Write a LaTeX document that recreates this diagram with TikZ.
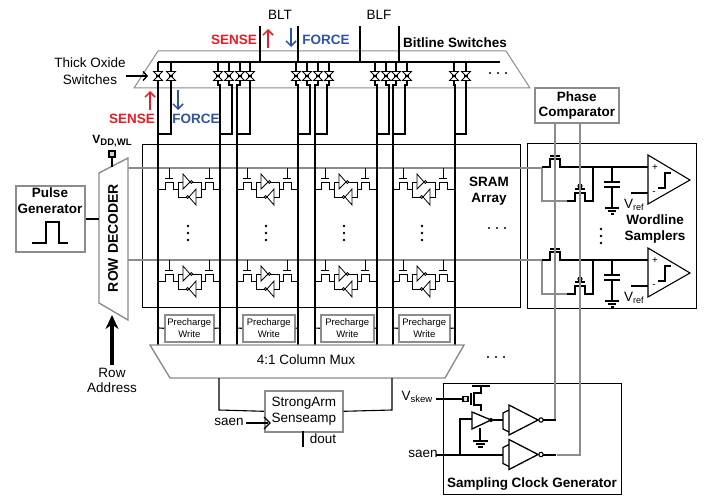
\documentclass[tikz,border=0pt]{standalone}
\usepackage{fontspec}
\setmainfont{Liberation Sans}
\usetikzlibrary{arrows.meta}
\definecolor{gline}{gray}{0.55}
\definecolor{sred}{RGB}{237,28,36}
\definecolor{fblue}{RGB}{47,84,165}
\tikzset{
 wire/.style={line width=1.1pt,black},
 bus/.style={line width=1.7pt,black},
 gwire/.style={line width=1.2pt,gline},
 thin wire/.style={line width=0.8pt,black},
 gbox/.style={draw=gline,line width=1.6pt,fill=white,inner sep=0pt,align=center},
 kbox/.style={draw=black,line width=0.9pt,inner sep=0pt},
 txt/.style={inner sep=0pt,font=\fontsize{13.5}{15}\selectfont,align=center},
 btxt/.style={inner sep=0pt,font=\fontsize{13.5}{15}\selectfont\bfseries,align=center},
 redarrow/.style={sred,line width=1.5pt,-{Straight Barb[length=5pt,width=10pt]}},
 bluearrow/.style={fblue,line width=1.5pt,-{Straight Barb[length=5pt,width=10pt]}},
 dot/.style={circle,fill=black,inner sep=0pt,minimum size=2.6pt},
}
\newcommand{\switchat}[2]{%
 \draw[thin wire,fill=white] (#1-4.5,#2-4.5) -- (#1+4.5,#2+4.5) -- (#1-4.5,#2+4.5) -- (#1+4.5,#2-4.5) -- cycle;
 \draw[thin wire,line width=1.4pt] (#1-2,#2) -- (#1+2,#2);
}
\newcommand{\sramcell}[2]{%
 \begin{scope}[shift={(#1,#2)},thin wire]
  \draw (0,0) -- (6,0) -- (6,-7) -- (14,-7) -- (14,0) -- (19,0) -- (19,-7) -- (24,-7);
  \draw (10,-21) -- (10,-11) (6,-11) -- (14,-11);
  \draw (61,0) -- (54,0) -- (54,-7) -- (46,-7) -- (46,0) -- (42,0) -- (42,-7) -- (33,-7);
  \draw (50,-21) -- (50,-11) (46,-11) -- (54,-11);
  \draw (24,-15) -- (24,0) -- (31,-7) -- cycle;
  \draw (32.3,-7) circle (1.4);
  \draw (19,0) -- (19,8) -- (28,8);
  \draw (37,0) -- (37,16) -- (30,8) -- cycle;
  \draw (28.7,8) circle (1.4);
  \draw (37,8) -- (42,8) -- (42,-7);
 \end{scope}
}
\newcommand{\sampler}[1]{%
 \begin{scope}[shift={(0,#1)}]
  \draw[gwire] (542,0) -- (542,34) -- (567,34);
  \draw[wire] (542,0) -- (550,0) -- (550,-8) -- (560,-8) -- (560,0) -- (648,0);
  \draw[wire] (555,-16) -- (555,-11) (550,-11) -- (560,-11);
  \draw[wire] (567,34) -- (575,34) -- (575,26) -- (585,26) -- (585,34) -- (593,34) -- (593,0);
  \draw[wire] (575,22) -- (585,22);
  \draw[wire,fill=white] (580,19) circle (2);
  \draw[wire] (580,17) -- (580,13);
  \draw[wire] (612,0) -- (612,15) (604,15) -- (620,15) (604,20) -- (620,20) (612,20) -- (612,41);
  \draw[wire] (605,41) -- (619,41) (608,44) -- (616,44) (610.5,47) -- (613.5,47);
  \draw[wire,fill=white] (648,-12) -- (690,13) -- (648,37) -- cycle;
  \draw[wire] (631,26) -- (648,26);
  \draw[wire] (658,21) -- (665,21) -- (665,6) -- (671,6);
  \node[inner sep=0pt,font=\fontsize{10}{10}\selectfont] at (655,0.5) {+};
  \node[inner sep=0pt,font=\fontsize{10}{10}\selectfont] at (654,26) {-};
  \node[txt,anchor=west] at (624,38) {V\raisebox{-2pt}{\fontsize{9}{9}\selectfont ref}};
 \end{scope}
}
\newcommand{\invat}[2]{%
 \begin{scope}[shift={(#1,#2)}]
  \draw[wire,line width=1.3pt,fill=white] (0,-15) -- (0,15) -- (29,0) -- cycle;
  \draw[wire,line width=1.3pt] (0,-10) -- (-6,-7) -- (-6,9) -- (0,12);
  \draw[wire,fill=white] (32,0) circle (2.2);
 \end{scope}
}
\begin{document}
\begin{tikzpicture}[x=1pt,y=-1pt]
\useasboundingbox (0,0) rectangle (709,497);
\fill[white] (0,0) rectangle (709,497);

% Bitline switch band
\draw[gline,line width=1pt] (158,51) -- (506,51) -- (530,88) -- (134,88) -- cycle;

% main boxes
\node[kbox,minimum width=378pt,minimum height=163pt,anchor=north west] (array) at (142,144) {};
\node[kbox,minimum width=169pt,minimum height=165pt,anchor=north west] (wsamp) at (527,143) {};
\node[kbox,minimum width=178pt,minimum height=111pt,anchor=north west] (clk) at (443,383) {};

% wordlines
\coordinate (wl1) at (128,168);
\coordinate (wl2) at (128,260);
\draw[gwire] (wl1) -- (542,168);
\draw[gwire] (wl2) -- (542,260);

% cells
\foreach \cx in {159,237,315,393}{
 \sramcell{\cx}{189}
 \sramcell{\cx}{281}
 \node[dot] at (\cx+29,226) {};
 \node[dot] at (\cx+29,233) {};
 \node[dot] at (\cx+29,240) {};
}

% bitlines
\draw[bus] (158,346) -- (158,62);
\draw[wire] (171,62) -- (171,134) -- (158,134);
\draw[bus] (220,346) -- (220,85) -- (218,85) -- (218,62);
\draw[wire] (229,62) -- (229,85) -- (232,85) -- (232,134) -- (220,134);
\draw[bus] (237,346) -- (237,85) -- (240,85) -- (240,62);
\draw[wire] (250,62) -- (250,134) -- (237,134);
\draw[bus] (298,346) -- (298,85) -- (296,85) -- (296,62);
\draw[wire] (307,62) -- (307,85) -- (310,85) -- (310,134) -- (298,134);
\draw[bus] (315,346) -- (315,85) -- (318,85) -- (318,62);
\draw[wire] (329,62) -- (329,85) -- (327,85) -- (327,134) -- (315,134);
\draw[bus] (377,346) -- (377,85) -- (375,85) -- (375,62);
\draw[wire] (386,62) -- (386,85) -- (389,85) -- (389,134) -- (377,134);
\draw[bus] (393,346) -- (393,85) -- (396,85) -- (396,62);
\draw[wire] (407,62) -- (407,85) -- (405,85) -- (405,134) -- (393,134);
\draw[bus] (455,346) -- (455,85) -- (454,85) -- (454,62);
\draw[wire] (466,62) -- (466,134) -- (455,134);

% top bus
\draw[black,line width=2.8pt] (158,62) -- (500,62);
\draw[wire] (260,26) -- (260,62) (298,26) -- (298,62) (360,26) -- (360,62) (399,26) -- (399,62);

% switches
\foreach \sx in {158,171,218,229,240,250,296,307,318,329,375,386,396,407,454,466}{
 \switchat{\sx}{76}
}

% precharge blocks
\foreach \px/\lx/\rx/\bw/\nm in {164/159/220/49/pca,242/237/298/52/pcb,320/315/377/53/pcc,398/393/455/51/pcd}{
 \node[gbox,minimum width=\bw pt,minimum height=27pt,anchor=north west,font=\fontsize{9.5}{11.5}\selectfont] (\nm) at (\px,314) {Precharge\\Write};
 \draw[wire] (\lx,328) -- (\nm.west);
 \draw[wire] (\nm.east) -- (\rx,328);
}

% Mux
\draw[gline,line width=1.4pt,fill=white] (150,345) -- (464,345) -- (445,378) -- (170,378) -- cycle;
\node[txt] (muxlabel) at (306,360) {4:1 Column Mux};

% senseamp
\node[gbox,minimum width=78pt,minimum height=41pt,anchor=north west,font=\fontsize{13.5}{16.5}\selectfont] (sa) at (264,390) {StrongArm\\Senseamp};
\draw[wire] (219,378) -- (219,410) -- (sa.west);
\draw[wire] (392,378) -- (392,410) -- (sa.east);
\node[txt] (saenA) at (229,422) {saen};
\draw[wire] (saenA.east) ++(2,1) -- (268,423);
\draw[wire,line width=1.4pt] (264,417) -- (270,423) -- (264,429);
\draw[wire,line width=1.4pt] (303,431) -- (303,447);
\node[txt] (dout) at (323,439) {dout};

% Pulse generator
\node[gbox,minimum width=69pt,minimum height=66pt,anchor=north west] (pg) at (15,185) {};
\node[btxt] at (50,193) {Pulse};
\node[btxt] at (50,209) {Generator};
\draw[wire] (32,243) -- (46,243) -- (46,222) -- (59,222) -- (59,243) -- (68,243);

% Row decoder
\draw[gline,line width=1.4pt,fill=white] (99,173) -- (128,158) -- (128,320) -- (99,303) -- cycle;
\coordinate (rdw) at (99,219);
\draw[wire] (pg.east |- rdw) -- (rdw);
\node[btxt,rotate=90,font=\fontsize{14}{14}\selectfont\bfseries] (rd) at (113,238) {ROW DECODER};
\node[draw=black,line width=1.2pt,fill=gline!40,minimum size=6pt,inner sep=0pt] (vddp) at (112,154) {};
\coordinate (rdt) at (112,167);
\draw[wire] (vddp.south) -- (rdt);
\node[txt,font=\fontsize{12}{12}\selectfont\bfseries] (vdd) at (112,141) {V\raisebox{-2pt}{\fontsize{9.5}{9.5}\selectfont DD,WL}};
\coordinate (rdb) at (112,315);
\coordinate (rab) at (112,365);
\draw[line width=3.2pt,-{Stealth[length=14pt,width=13pt]}] (rab) -- (rdb);
\node[txt] at (112,373) {Row};
\node[txt] at (112,388) {Address};

% labels
\node[txt] at (280,15) {BLT};
\node[txt] at (379,15) {BLF};
\node[btxt] at (455,43) {Bitline Switches};
\node[btxt,sred] at (234,40) {SENSE};
\node[btxt,fblue] at (326,40) {FORCE};
\node[btxt,sred] at (132,119) {SENSE};
\node[btxt,fblue] at (196,119) {FORCE};
\coordinate (a1) at (268,48); \coordinate (a2) at (268,29);
\coordinate (a3) at (291,28); \coordinate (a4) at (291,47);
\coordinate (a5) at (150,110); \coordinate (a6) at (150,91);
\coordinate (a7) at (178,90); \coordinate (a8) at (178,110);
\draw[redarrow] (a1) -- (a2);
\draw[bluearrow] (a3) -- (a4);
\draw[redarrow] (a5) -- (a6);
\draw[bluearrow] (a7) -- (a8);
\node[txt] (thick) at (90,71.5) {Thick Oxide\\[2pt]Switches};
\coordinate (ta) at (148,76);
\draw[line width=1.4pt,-{Straight Barb[length=4pt,width=9pt]}] (126,76) -- (ta);
\foreach \dx in {490,498,506}{ \node[dot,minimum size=2.2pt] at (\dx,73) {}; }
\foreach \dx in {489,497,505}{ \node[dot,minimum size=2.2pt] at (\dx,228) {}; }
\foreach \dx in {488,496,504}{ \node[dot,minimum size=2.2pt] at (\dx,357) {}; }
\node[btxt] at (489,191.5) {SRAM\\[1pt]Array};

% phase comparator and gray lines
\node[gbox,minimum width=84pt,minimum height=35pt,anchor=north west,font=\fontsize{13.5}{15}\selectfont\bfseries] (pc) at (534,87.5) {Phase\\Comparator};
\coordinate (pcl) at (555,122); \coordinate (pcr) at (580,122);

% samplers
\sampler{167}
\sampler{260}
\draw[gwire] (pcl) -- (555,420) -- (547,420);
\draw[gwire] (pcr) -- (580,455) -- (557,455);
\node[btxt] at (655,229) {Wordline\\[1pt]Samplers};
\foreach \dy in {229,236,243}{ \node[dot] at (601,\dy) {}; }

% sampling clock generator
\node[btxt] at (532,484) {Sampling Clock Generator};
\node[txt] (vsk) at (417,397) {V\raisebox{-2pt}{\fontsize{9.5}{9.5}\selectfont skew}};
\node[txt] (saenB) at (423,454) {saen};
\draw[wire,line width=1.3pt] (436,399) -- (463,399);
\draw[wire,line width=1.1pt,fill=gline!30] (463,396.5) rectangle (468,401.5);
\draw[wire] (471,393) -- (471,405);
\draw[wire] (472,386) -- (490,386) (481,386) -- (481,393) -- (474,393) -- (474,405) -- (481,405) -- (481,411);
\draw[wire,line width=1.3pt,fill=white] (472,412) -- (491,420) -- (472,429) -- cycle;
\node[dot,minimum size=4pt] (ampo) at (491,420) {};
\draw[wire] (ampo) -- (503,420);
\draw[wire] (480,428) -- (480,441) (473,441) -- (488,441) (476,444) -- (485,444) (478,447) -- (483,447);
\draw[wire,line width=1.3pt] (436,455) -- (503,455);
\draw[wire] (460,455) -- (460,419) -- (472,419);
\invat{509}{420}
\invat{509}{454.5}
\draw[wire] (543,420) -- (556,420);
\draw[wire] (543,455) -- (556,455);
\end{tikzpicture}
\end{document}
